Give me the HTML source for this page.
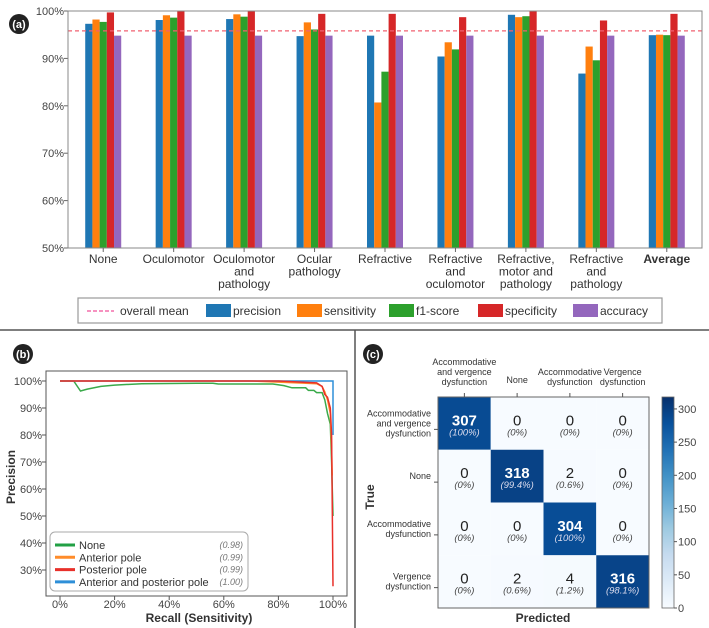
<!DOCTYPE html>
<html><head><meta charset="utf-8">
<style>
html,body{margin:0;padding:0;background:#fff;}
svg{display:block;font-family:"Liberation Sans",sans-serif;}
</style></head>
<body>
<svg id="fig" width="709" height="628" viewBox="0 0 709 628" xmlns="http://www.w3.org/2000/svg">
<line x1="0" y1="330" x2="709" y2="330" stroke="#555" stroke-width="1.5"/>
<line x1="355" y1="330" x2="355" y2="628" stroke="#555" stroke-width="1.5"/>
<g id="pa"></g>
<g id="pb"></g>
<g id="pc"></g>
</svg>
<script>
// ---------- Panel A data ----------
const aCategories = [["None"],["Oculomotor"],["Oculomotor","and","pathology"],["Ocular","pathology"],["Refractive"],["Refractive","and","oculomotor"],["Refractive,","motor and","pathology"],["Refractive","and","pathology"],["Average"]];
const aPrecision   = [97.3,98.1,98.3,94.7,94.8,90.4,99.2,86.8,94.9];
const aSensitivity = [98.2,99.1,99.3,97.6,80.7,93.4,98.7,92.5,95.0];
const aF1          = [97.7,98.6,98.8,96.1,87.2,91.9,98.9,89.6,94.9];
const aSpecificity = [99.7,100,100,99.4,99.4,98.7,100,98.0,99.4];
const aAccuracy    = [94.8,94.8,94.8,94.8,94.8,94.8,94.8,94.8,94.8];
const aOverallMean = 95.8;
const aTicks = [50,60,70,80,90,100];
const aSeriesNames = ["precision","sensitivity","f1-score","specificity","accuracy"];

// ---------- Panel B data ----------
const bNoneR = [0,5,7.5,10,15,20,30,50,56,58,78,82,85,90,91,93,94,96,97,98,99,99.5,100];
const bNoneP = [100,100,96.3,97,98,98.5,99,99.2,99.2,98.9,98.9,98.3,97.5,97.5,96.5,96.5,95.7,95.7,93,88,84,70,50];
const bAntR = [0,70,80,90,94,96,97,98,99,99.5,99.7];
const bAntP = [100,100,99.6,99.2,99,98,96,93,88,75,65];
const bPostR = [0,80,90,94,96,97,98,99,99.5,100];
const bPostP = [100,100,99.5,99.3,98,95,94,90,80,24];
const bBothR = [0,100,100];
const bBothP = [100,100,80];
const bXTicks = [0,20,40,60,80,100];
const bYTicks = [30,40,50,60,70,80,90,100];
const bLegendNames = ["None","Anterior pole","Posterior pole","Anterior and posterior pole"];
const bLegendAP = ["(0.98)","(0.99)","(0.99)","(1.00)"];

// ---------- Panel C data ----------
const cLabelsTop = [["Accommodative","and vergence","dysfunction"],["None"],["Accommodative","dysfunction"],["Vergence","dysfunction"]];
const cLabelsLeft = [["Accommodative","and vergence","dysfunction"],["None"],["Accommodative","dysfunction"],["Vergence","dysfunction"]];
const cCounts = [[307,0,0,0],[0,318,2,0],[0,0,304,0],[0,2,4,316]];
const cPercents = [["100%","0%","0%","0%"],["0%","99.4%","0.6%","0%"],["0%","0%","100%","0%"],["0%","0.6%","1.2%","98.1%"]];
const cBarTicks = [0,50,100,150,200,250,300];
const cMax = 318;

const NS="http://www.w3.org/2000/svg";
function mk(parent,tag,attrs,text){const e=document.createElementNS(NS,tag);for(const k in attrs)e.setAttribute(k,attrs[k]);if(text!==undefined)e.textContent=text;parent.appendChild(e);return e;}

function badge(g,x,y,t){
  const c=mk(g,"circle",{cx:x,cy:y,r:10,fill:"#222"});
  
  
  const tt=mk(g,"text",{x:x,y:y+4,"text-anchor":"middle","font-size":11,"font-weight":"bold",fill:"#fff"},t);
  
  
}

// ===== Panel A =====
(function(){
  const g=document.getElementById("pa");
  const L=68,R=702,T=11,B=248;
  const y=v=>B-(v-50)/50*(B-T);
  const band=(R-L)/aCategories.length;
  const cx=i=>L+band*(i+0.5);
  const bw=7.2;
  const colors=["#1f77b4","#ff7f0e","#2ca02c","#d62728","#9467bd"];
  const series=[aPrecision,aSensitivity,aF1,aSpecificity,aAccuracy];
  badge(g,19,24,"(a)");
  aTicks.forEach(t=>{
    const tx=mk(g,"text",{x:64,y:y(t)+4,"text-anchor":"end","font-size":11,fill:"#444"},t+"%");
    
    
    mk(g,"line",{x1:L-4,x2:L,y1:y(t),y2:y(t),stroke:"#666"});
  });
  series.forEach((s,si)=>{
    s.forEach((v,i)=>{
      const x=cx(i)-2.5*bw+si*bw;
      const r=mk(g,"rect",{x:x,y:y(v),width:bw,height:B-y(v),fill:colors[si]});
      
      
    });
  });
  const ml=mk(g,"line",{x1:L,x2:R,y1:y(aOverallMean),y2:y(aOverallMean),stroke:"#f06070","stroke-width":1.2,"stroke-dasharray":"4,3"});
  
  
  const fr=mk(g,"rect",{x:L,y:T,width:R-L,height:B-T,fill:"none",stroke:"#888","stroke-width":1});
  
  
  aCategories.forEach((lines,i)=>{
    mk(g,"line",{x1:cx(i),x2:cx(i),y1:B,y2:B+4,stroke:"#666"});
    lines.forEach((ln,j)=>{
      const tx=mk(g,"text",{x:cx(i),y:263+j*12.5,"text-anchor":"middle","font-size":12,fill:"#333","font-weight":ln==="Average"?"bold":"normal"},ln);
      
      
    });
  });
  const lg=mk(g,"g",{});
  
  
  mk(lg,"rect",{x:78,y:298,width:584,height:25,fill:"#fff",stroke:"#999","stroke-width":1.2});
  mk(lg,"line",{x1:87,x2:114,y1:311,y2:311,stroke:"#f0509a","stroke-width":1.3,"stroke-dasharray":"4,2"});
  const t0=mk(lg,"text",{x:120,y:315,"font-size":12,fill:"#333"},"overall mean");
  
  
  const sx=[206,297,389,478,573];
  aSeriesNames.forEach((n,i)=>{
    mk(lg,"rect",{x:sx[i],y:304,width:25,height:13,fill:colors[i]});
    const t=mk(lg,"text",{x:sx[i]+27,y:315,"font-size":12,fill:"#333"},n);
    
    
  });
})();

// ===== Panel B =====
(function(){
  const g=document.getElementById("pb");
  const L=46,R=347,T=371,B=596;
  const x=v=>60+v/100*273;
  const y=v=>381+(100-v)*2.7;
  badge(g,23,354,"(b)");
  mk(g,"rect",{x:L,y:T,width:R-L,height:B-T,fill:"none",stroke:"#555","stroke-width":1});
  bXTicks.forEach(t=>{
    mk(g,"line",{x1:x(t),x2:x(t),y1:B,y2:B+4,stroke:"#555"});
    const tx=mk(g,"text",{x:x(t),y:608,"text-anchor":"middle","font-size":11,fill:"#444"},t+"%");
    
    
  });
  bYTicks.forEach(t=>{
    mk(g,"line",{x1:L-4,x2:L,y1:y(t),y2:y(t),stroke:"#555"});
    const tx=mk(g,"text",{x:42,y:y(t)+4,"text-anchor":"end","font-size":11,fill:"#444"},t+"%");
    
    
  });
  const xl=mk(g,"text",{x:199,y:622,"text-anchor":"middle","font-size":12,"font-weight":"bold",fill:"#333"},"Recall (Sensitivity)");
  
  
  const yl=mk(g,"text",{x:0,y:0,"text-anchor":"middle","font-size":12,"font-weight":"bold",fill:"#333",transform:"translate(15,477) rotate(-90)"},"Precision");
  
  
  const curves=[[bNoneR,bNoneP,"#3aaa4a","curve-none"],[bAntR,bAntP,"#ff8c2a","curve-anterior-pole"],[bBothR,bBothP,"#2e8fd8","curve-anterior-posterior-pole"],[bPostR,bPostP,"#e8302a","curve-posterior-pole"]];
  curves.forEach(c=>{
    const d=c[0].map((r,i)=>(i?"L":"M")+x(r).toFixed(1)+","+y(c[1][i]).toFixed(1)).join(" ");
    const p=mk(g,"path",{d:d,fill:"none",stroke:c[2],"stroke-width":1.5});
    
    
  });
  const lg=mk(g,"g",{});
  
  
  mk(lg,"rect",{x:50,y:532,width:198,height:59,rx:5,fill:"#fff","fill-opacity":0.9,stroke:"#aaa"});
  const lc=["#22a045","#ff8c2a","#e8302a","#2e8fd8"];
  bLegendNames.forEach((n,i)=>{
    const yy=545+i*12.3;
    mk(lg,"line",{x1:55,x2:75,y1:yy,y2:yy,stroke:lc[i],"stroke-width":3});
    const t=mk(lg,"text",{x:79,y:yy+4,"font-size":11,fill:"#333"},n);
    
    
    const v=mk(lg,"text",{x:243,y:yy+3,"text-anchor":"end","font-size":9,"font-style":"italic",fill:"#777"},bLegendAP[i]);
    
    
  });
})();

// ===== Panel C =====
(function(){
  const g=document.getElementById("pc");
  const L=438,T=397,S=52.75,B=T+4*S;
  const stops=[[247,251,255],[222,235,247],[198,219,239],[158,202,225],[107,174,214],[66,146,198],[33,113,181],[8,81,156],[8,48,107]];
  function blues(t){t=Math.max(0,Math.min(1,t))*8;const i=Math.min(7,Math.floor(t)),f=t-i;const a=stops[i],b=stops[i+1];return "rgb("+a.map((v,k)=>Math.round(v+(b[k]-v)*f)).join(",")+")";}
  badge(g,373,354,"(c)");
  cCounts.forEach((row,r)=>{
    row.forEach((v,c)=>{
      const t=v/cMax*0.93;
      const rc=mk(g,"rect",{x:L+c*S,y:T+r*S,width:S,height:S,fill:blues(t)});
      
      
      const dark=t>0.5;
      const n=mk(g,"text",{x:L+c*S+S/2,y:T+r*S+S/2+2,"text-anchor":"middle","font-size":15,"font-weight":dark?"bold":"normal",fill:dark?"#fff":"#222"},String(v));
      
      
      const p=mk(g,"text",{x:L+c*S+S/2,y:T+r*S+S/2+12,"text-anchor":"middle","font-size":9.5,"font-style":"italic",fill:dark?"#dde":"#444"},"("+cPercents[r][c]+")");
      
      
    });
  });
  mk(g,"rect",{x:L,y:T,width:4*S,height:4*S,fill:"none",stroke:"#666"});
  cLabelsTop.forEach((lines,i)=>{
    const cx=L+i*S+S/2;
    mk(g,"line",{x1:cx,x2:cx,y1:T-4,y2:T,stroke:"#555"});
    const base=T-12-(lines.length-1)*10;
    lines.forEach((ln,j)=>{
      const t=mk(g,"text",{x:cx,y:base+j*10-(lines.length===1?2:0),"text-anchor":"middle","font-size":9,fill:"#333"},ln);
      
      
    });
  });
  cLabelsLeft.forEach((lines,i)=>{
    const cy=T+i*S+S/2;
    mk(g,"line",{x1:L-4,x2:L,y1:cy+6,y2:cy+6,stroke:"#555"});
    const base=cy+3-(lines.length-1)*5;
    lines.forEach((ln,j)=>{
      const t=mk(g,"text",{x:431,y:base+j*10,"text-anchor":"end","font-size":9,fill:"#333"},ln);
      
      
    });
  });
  const yl=mk(g,"text",{x:0,y:0,"text-anchor":"middle","font-size":12,"font-weight":"bold",fill:"#333",transform:"translate(374,497) rotate(-90)"},"True");
  
  
  const xl=mk(g,"text",{x:543,y:622,"text-anchor":"middle","font-size":12,"font-weight":"bold",fill:"#333"},"Predicted");
  
  
  const defs=mk(g,"defs",{});
  const lgd=mk(defs,"linearGradient",{id:"cbg",x1:0,y1:1,x2:0,y2:0});
  for(let k=0;k<=8;k++){mk(lgd,"stop",{offset:(k/8),"stop-color":blues(k/8)});}
  const cbT=T,cbB=B,cbX=662,cbW=12;
  const cb=mk(g,"rect",{x:cbX,y:cbT,width:cbW,height:cbB-cbT,fill:"url(#cbg)",stroke:"#666","stroke-width":0.8});
  
  
  const cy=v=>cbB-v/cMax*(cbB-cbT);
  cBarTicks.forEach(t=>{
    mk(g,"line",{x1:cbX+cbW,x2:cbX+cbW+3,y1:cy(t),y2:cy(t),stroke:"#555"});
    const tx=mk(g,"text",{x:678,y:cy(t)+4,"font-size":11,fill:"#444"},String(t));
    
    
  });
})();
</script>
</body></html>
